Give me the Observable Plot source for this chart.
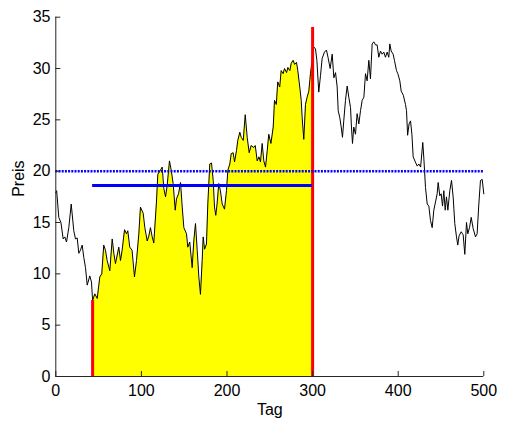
<!DOCTYPE html>
<html>
<head>
<meta charset="utf-8">
<script src="https://cdn.jsdelivr.net/npm/d3@7"></script>
<script src="https://cdn.jsdelivr.net/npm/@observablehq/plot@0.6"></script>
<style>
  html, body { margin: 0; padding: 0; background: #fff; }
</style>
</head>
<body>
<div id="chart"></div>
<script>
const days = [0,1,3.5,6,8.6,10.5,12.5,15.2,18,21,23,25,26.9,28.8,30.8,32.7,34.7,36.7,39.7,41.7,43,45.6,48.4,51.4,53.7,56,58,60,63.1,65.9,67.8,69.7,73.6,75.6,77.5,80.3,82.6,84.1,86.4,89.1,91.9,94.3,97,98.9,102.1,104,106.8,108.7,110.6,112.6,114.5,117.6,119.2,122.3,124.3,126.2,128.2,130.1,132.8,134.8,137.1,139.5,141,143.4,145.7,147.7,149.6,152.7,154.2,156.5,159.3,161.2,163.2,165.2,167.1,169,171,172.2,173.8,176,177.6,179.9,181.9,183.9,185.4,186.9,188.4,190.4,192.3,194.4,197.1,199.4,201,203.3,204.9,207.2,208.8,211.1,212.6,215,216.6,219,221.3,223.6,225.9,228.3,231.3,233,235.3,237.3,239.1,241.1,243,245,247,248.8,251.3,254,255.5,257.6,259.3,261.6,263.3,265.6,267.2,269.6,271.1,273.4,275,277.3,279,281.2,282.7,285,286.7,287.8,289.7,291.7,293.6,295.6,297.5,299.5,300,301.4,303.4,305,307.2,309.2,311.2,313.9,316.2,318,320.5,322.9,324.8,326.8,328.7,329.9,331.8,333.4,334.9,336.4,338.4,340.4,342.3,344.3,345.4,346.6,348.1,350.1,352,354,356,357.9,359.9,361.8,363.7,365.7,367.6,369.6,371.5,373.5,375.4,377.3,379.3,381.2,383.2,385.1,387.1,389,390.2,391.8,394.1,395.6,398,399.6,401.9,403.5,406,408.5,409.7,411,412.7,414.4,416,417.5,420,422.2,424.2,426.2,428.7,430,431.9,433.9,435.8,437.7,439.7,441.6,443.6,445.5,446.7,448.6,450.2,451.8,453.3,454.9,456.4,458,460.3,462.3,464.2,466.1,468.1,469.6,471.1,473.6,475.9,477.8,479.8,481.3,483.3,485.3,487.6,490.3,492.2,494.2,496.1,498.1,500];
const prices = [17.9,18.1,15.5,15.0,13.4,13.6,13.1,14.5,16.8,14.2,13.4,13.5,12.0,12.3,12.8,11.6,10.6,8.9,9.8,9.2,7.4,8.05,7.6,9.7,10.0,12.8,12.3,11.3,10.3,13.4,12.0,11.0,12.6,11.3,12.3,14.3,13.9,14.2,12.6,12.3,9.7,11.3,13.9,16.5,15.9,14.5,13.2,13.7,14.5,13.6,13.0,17.0,19.7,20.1,20.4,18.3,17.5,18.6,21.0,20.1,18.8,16.2,17.3,17.8,18.9,16.5,14.5,13.9,12.6,13.1,10.6,13.2,14.9,12.3,9.7,8.0,11.3,13.6,12.4,12.9,16.8,20.7,20.8,19.1,16.5,15.7,16.8,18.8,18.1,16.8,16.3,18.1,20.1,20.7,21.7,21.8,20.9,22.0,23.0,23.8,23.3,23.0,25.5,23.3,21.8,22.5,22.3,22.5,21.0,21.4,20.9,22.7,21.0,20.4,22.0,23.6,22.7,24.3,26.9,26.5,28.7,28.2,29.8,29.5,30.0,29.6,30.1,29.8,30.5,30.8,30.4,30.6,29.8,28.2,26.9,25.2,23.1,26.5,27.2,27.8,29.5,30.8,31.5,32.1,31.9,30.8,27.7,29.3,31.0,31.6,31.8,31.1,30.0,31.4,29.1,29.6,28.2,25.9,25.2,24.3,23.3,24.9,26.9,28.3,27.2,26.2,24.3,22.7,24.3,23.6,25.6,24.6,25.9,26.9,27.2,29.5,28.8,30.8,29.0,32.4,32.6,32.3,32.3,31.1,31.7,31.4,31.6,31.1,31.6,31.1,32.4,31.7,31.4,30.8,29.8,29.5,28.8,27.8,27.4,26.5,25.9,23.5,24.6,24.9,23.6,21.4,20.9,20.5,20.7,20.4,22.8,21.2,18.4,16.8,16.6,15.2,14.5,16.2,17.0,17.8,18.9,17.6,17.8,16.6,18.1,16.2,17.5,16.2,18.1,19.1,17.5,14.9,13.6,12.8,13.7,14.1,13.8,11.9,15.0,13.9,14.5,15.5,14.4,13.6,13.9,16.8,19.1,19.2,17.8];

const startDay = 43;
const endDay = 300;
const redTops = [7.4, 34];
const meanLevel = 18.6;
const thresholdLevel = 20;
const xTicks = [0, 100, 200, 300, 400, 500];
const yTicks = [0, 5, 10, 15, 20, 25, 30, 35];
const xLabel = "Tag";
const yLabel = "Preis";

const series = days.map((d, i) => ({day: d, price: prices[i]}));
const window_ = series.filter(d => d.day >= startDay && d.day <= endDay);
const redLines = [{day: startDay, top: redTops[0]}, {day: endDay, top: redTops[1]}];
const meanSeg = [{y: meanLevel, x1: startDay, x2: endDay}];

const axisColor = "#262626";
const font = "'Liberation Sans', Arial, Helvetica, sans-serif";

const chart = Plot.plot({
  width: 522,
  height: 432,
  marginLeft: 55.3,
  marginRight: 38.7,
  marginTop: 16.7,
  marginBottom: 56,
  style: {fontFamily: font, fontSize: "16px", color: "#000", background: "#fff"},
  x: {domain: [0, 500]},
  y: {domain: [0, 35]},
  marks: [
    Plot.areaY(window_, {x: "day", y: "price", fill: "#ffff00"}),
    Plot.line(series, {x: "day", y: "price", stroke: "#000", strokeWidth: 1}),
    Plot.ruleX(redLines, {x: "day", y1: 0, y2: "top", stroke: "#ff0000", strokeWidth: 3}),
    Plot.ruleY([thresholdLevel], {stroke: "#0000ff", strokeWidth: 2.6, strokeDasharray: "2,1.2"}),
    Plot.ruleY(meanSeg, {y: "y", x1: "x1", x2: "x2", stroke: "#0000ff", strokeWidth: 3}),
    Plot.ruleY([0], {stroke: axisColor}),
    Plot.ruleX([0], {stroke: axisColor}),
    Plot.axisX({ticks: xTicks, tickSize: -5, tickPadding: 13, label: null, stroke: axisColor, fill: "#000", fontSize: 16}),
    Plot.axisY({ticks: yTicks, tickSize: -5, tickPadding: 10.3, label: null, stroke: axisColor, fill: "#000", fontSize: 16}),
    Plot.text([xLabel], {text: d => d, frameAnchor: "bottom", dy: 38, fontSize: 16, fill: "#000"}),
    Plot.text([yLabel], {text: d => d, frameAnchor: "left", dx: -37, rotate: -90, fontSize: 16, fill: "#000"})
  ]
});
document.getElementById("chart").appendChild(chart);
</script>
</body>
</html>
